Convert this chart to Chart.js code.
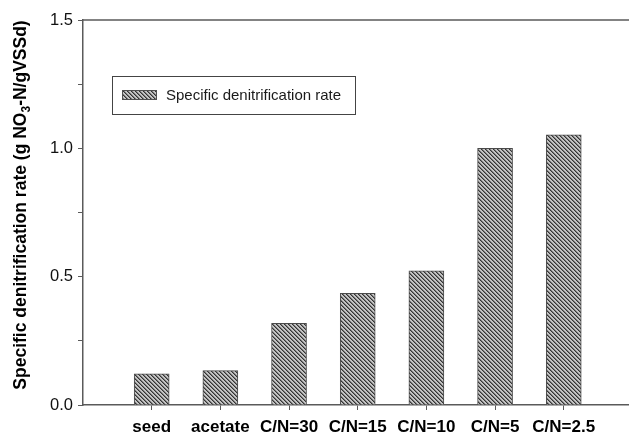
<!DOCTYPE html>
<html>
<head>
<meta charset="utf-8">
<script src="https://cdn.jsdelivr.net/npm/chart.js@4/dist/chart.umd.min.js"></script>
<style>
  html, body { margin: 0; padding: 0; background: #ffffff; }
  #wrap { width: 629px; height: 440px; }
</style>
</head>
<body>
<div id="wrap"><canvas id="chart" width="629" height="440"></canvas></div>
<script>
// Treatments and their specific denitrification rates
const categories = ['seed', 'acetate', 'C/N=30', 'C/N=15', 'C/N=10', 'C/N=5', 'C/N=2.5'];
const rates = [0.121, 0.134, 0.318, 0.435, 0.523, 1.0, 1.053];
const seriesName = 'Specific denitrification rate';
const yLabeledTicks = [0.0, 0.5, 1.0, 1.5];

const FONT = '"Liberation Sans", Arial, sans-serif';
const AXIS_COLOR = '#5a5a5a';

// Diagonal hatch fill for the bars
function makeHatch() {
  const s = 4;
  const c = document.createElement('canvas');
  c.width = s; c.height = s;
  const g = c.getContext('2d');
  const img = g.createImageData(s, s);
  for (let y = 0; y < s; y++) {
    for (let x = 0; x < s; x++) {
      const d = ((x - y) % s + s) % s;
      let v = 196;
      if (d === 0) v = 52;
      else if (d === 1) v = 120;
      const i = (y * s + x) * 4;
      img.data[i] = v; img.data[i + 1] = v; img.data[i + 2] = v; img.data[i + 3] = 255;
    }
  }
  g.putImageData(img, 0, 0);
  return document.getElementById('chart').getContext('2d').createPattern(c, 'repeat');
}
const hatch = makeHatch();

const points = categories.map((c, i) => ({ x: i + 1, y: rates[i] }));

// Frame line along the top of the plot, the legend box and the rotated y title
const decorations = {
  id: 'decorations',
  afterDraw(chart) {
    const ctx = chart.ctx;
    const a = chart.chartArea;
    ctx.save();
    // top frame line
    ctx.strokeStyle = AXIS_COLOR;
    ctx.lineWidth = 1.5;
    ctx.beginPath();
    ctx.moveTo(a.left, a.top);
    ctx.lineTo(a.right, a.top);
    ctx.stroke();

    // legend
    const lx = 112, ly = 76, lw = 243, lh = 38;
    ctx.fillStyle = '#ffffff';
    ctx.fillRect(lx, ly, lw, lh);
    ctx.strokeStyle = '#444444';
    ctx.lineWidth = 1;
    ctx.strokeRect(lx + 0.5, ly + 0.5, lw, lh);
    ctx.fillStyle = hatch;
    ctx.fillRect(122, 90, 35, 10);
    ctx.strokeStyle = '#505050';
    ctx.strokeRect(122.5, 90.5, 34, 9);
    ctx.fillStyle = '#1a1a1a';
    ctx.font = '15px ' + FONT;
    ctx.textBaseline = 'middle';
    ctx.textAlign = 'left';
    ctx.fillText(chart.data.datasets[0].label, 166, 96);

    // y-axis title with subscript
    const parts = [
      { t: 'Specific denitrification rate (g NO', sub: false },
      { t: '3', sub: true },
      { t: '-N/gVSSd)', sub: false }
    ];
    const mainFont = 'bold 17.5px ' + FONT;
    const subFont = 'bold 12px ' + FONT;
    let total = 0;
    parts.forEach(p => { ctx.font = p.sub ? subFont : mainFont; p.w = ctx.measureText(p.t).width; total += p.w; });
    ctx.translate(21, 205);
    ctx.rotate(-Math.PI / 2);
    ctx.fillStyle = '#000000';
    ctx.textBaseline = 'middle';
    let x = -total / 2;
    parts.forEach(p => {
      ctx.font = p.sub ? subFont : mainFont;
      ctx.fillText(p.t, x, p.sub ? 6 : 0);
      x += p.w;
    });
    ctx.restore();
  }
};

new Chart(document.getElementById('chart'), {
  type: 'bar',
  data: {
    datasets: [{
      label: seriesName,
      data: points,
      backgroundColor: hatch,
      borderColor: '#4a4a4a',
      borderWidth: 1,
      borderSkipped: 'bottom',
      barThickness: 35
    }]
  },
  options: {
    responsive: false,
    animation: false,
    devicePixelRatio: 1,
    layout: { padding: { top: 20, right: 0, left: 0, bottom: 0 } },
    plugins: { legend: { display: false }, tooltip: { enabled: false } },
    scales: {
      x: {
        type: 'linear',
        min: 0,
        max: 7.95,
        offset: false,
        afterBuildTicks(scale) {
          scale.ticks = categories.map((c, i) => ({ value: i + 1 }));
        },
        afterFit(scale) { scale.height = 35; },
        grid: { offset: false, drawOnChartArea: false, drawTicks: true, tickLength: 5, tickColor: AXIS_COLOR, lineWidth: 1 },
        border: { display: true, color: AXIS_COLOR, width: 1.5 },
        ticks: {
          autoSkip: false,
          maxRotation: 0,
          padding: 7,
          color: '#000000',
          font: { family: FONT, size: 17, weight: 'bold' },
          callback: (v) => categories[Math.round(v) - 1] || ''
        }
      },
      y: {
        min: 0,
        max: 1.5,
        afterFit(scale) { scale.width = 83; },
        grid: { drawOnChartArea: false, drawTicks: true, tickLength: 5, tickColor: AXIS_COLOR, lineWidth: 1 },
        border: { display: true, color: AXIS_COLOR, width: 1.5 },
        ticks: {
          stepSize: 0.25,
          padding: 5,
          color: '#111111',
          font: { family: FONT, size: 16.5 },
          callback: (v) => yLabeledTicks.some(t => Math.abs(t - v) < 1e-6) ? v.toFixed(1) : ''
        }
      }
    }
  },
  plugins: [decorations]
});
</script>
</body>
</html>
